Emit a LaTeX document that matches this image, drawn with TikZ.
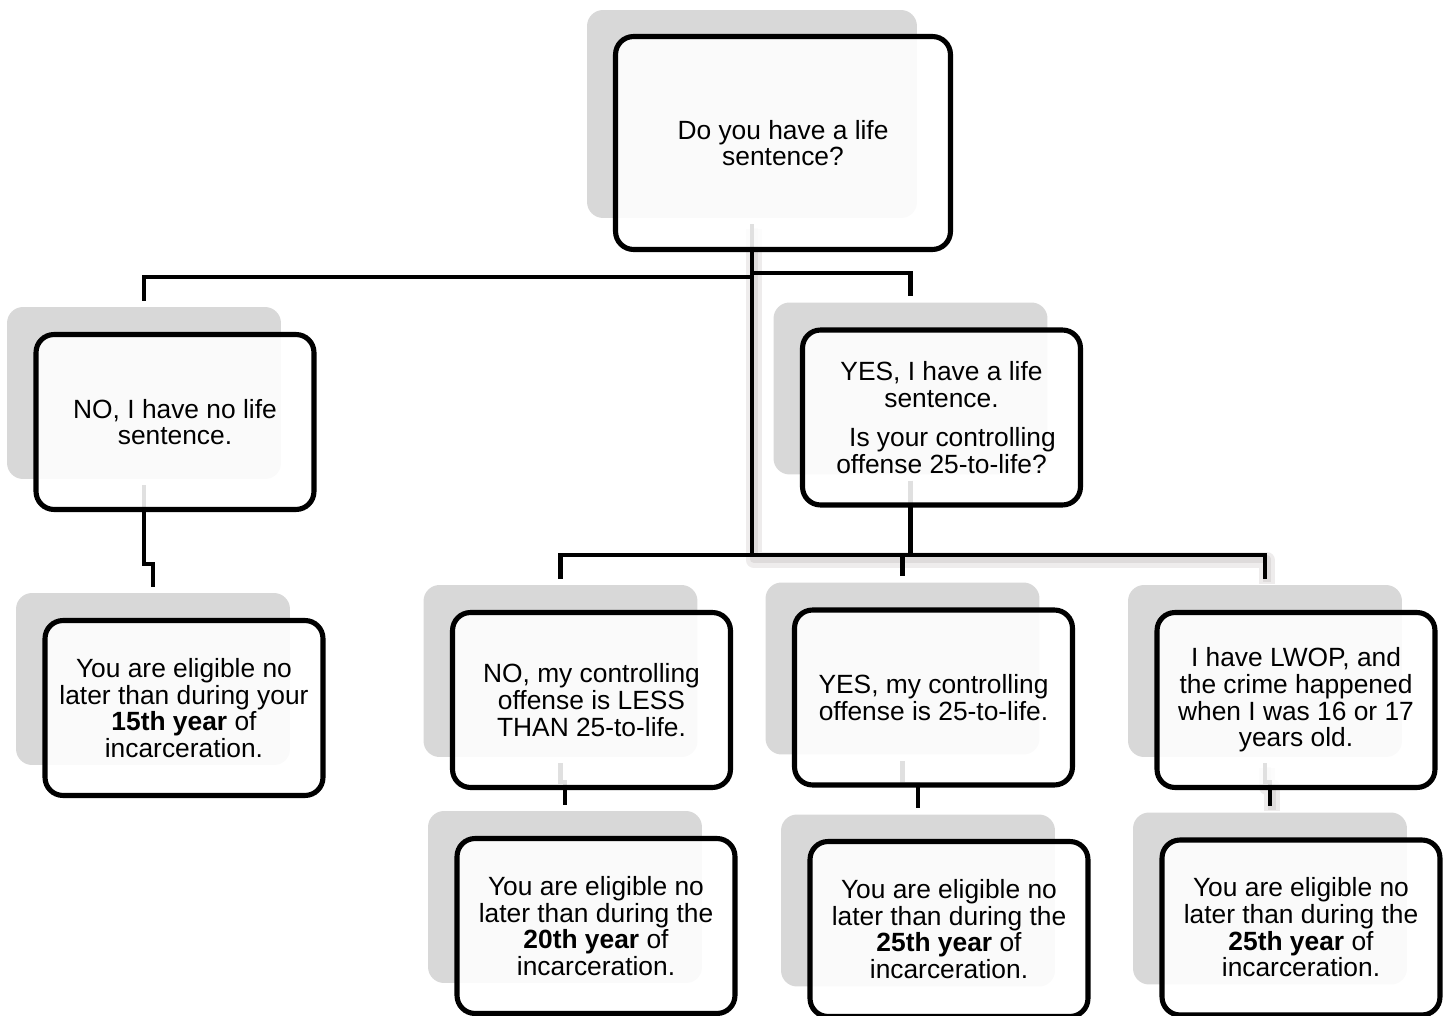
\documentclass[tikz,border=0pt]{standalone}
\usepackage{fontspec}
\setmainfont{Liberation Sans}
\definecolor{shadegray}{HTML}{D8D8D8}
\definecolor{lineshade}{HTML}{706060}
\tikzstyle{backcard}=[fill=shadegray, rounded corners=0.32cm, minimum width=5.48cm, minimum height=3.44cm, inner sep=0pt]
\tikzstyle{card}=[draw=black, line width=2.9pt, rounded corners=0.36cm, fill=white, fill opacity=0.88, text opacity=1, align=center, minimum width=5.56cm, minimum height=3.5cm, inner sep=2pt]
\tikzstyle{link}=[draw=black, line width=2.3pt, shorten <=0.12cm, shorten >=0.12cm]
\tikzstyle{linkshade}=[draw=lineshade, opacity=0.12, line width=0.32cm, line join=round, shorten <=0.12cm, shorten >=0.12cm]

\begin{document}
\begin{tikzpicture}[x=0.02cm, y=-0.02cm, font=\fontsize{15pt}{15.2pt}\selectfont]
            \useasboundingbox (0,0) rectangle (1445,1016);

            \begin{scope}[every node/.style={backcard}]
                \node[minimum width=6.6cm, minimum height=4.16cm] (top-s) at (752,114) {};
                \node (no-s) at (144,393) {};
                \node (yes-s) at (910.5,388.5) {};
                \node (fifteen-s) at (153,679) {};
                \node (less-s) at (560.5,671) {};
                \node (equal-s) at (902.5,668.5) {};
                \node (lwop-s) at (1265,671) {};
                \node (twenty-s) at (565,897) {};
                \node (equal25-s) at (918,900.5) {};
                \node (lwop25-s) at (1270,898.5) {};
            \end{scope}

            \begin{scope}[transform canvas={xshift=0.04cm, yshift=-0.1cm}, every path/.style={linkshade}]
                \path (top-s.south) -- ++(0,337) -| (lwop-s.north);
                \path (lwop-s.south) -- ++(0,25) -| (lwop25-s.north);
            \end{scope}
            \begin{scope}[transform canvas={xshift=0.03cm, yshift=-0.07cm}, every path/.style={linkshade, line width=0.16cm}]
                \path (top-s.south) -- ++(0,337) -| (lwop-s.north);
                \path (lwop-s.south) -- ++(0,25) -| (lwop25-s.north);
            \end{scope}

            \begin{scope}[every path/.style={link}]
                \path (top-s.south) -- ++(0,59) -| (no-s.north);
                \path (top-s.south) -- ++(0,55) -| (yes-s.north);
                \path (top-s.south) -- ++(0,337) -| (lwop-s.north);
                \path (no-s.south) -- ++(0,85) -| (fifteen-s.north);
                \path (yes-s.south) -- ++(0,80) -| (less-s.north);
                \path (yes-s.south) -- ++(0,80) -| (equal-s.north);
                \path (less-s.south) -- ++(0,25) -| (twenty-s.north);
                \path (equal-s.south) -- ++(0,29) -| (equal25-s.north);
                \path (lwop-s.south) -- ++(0,25) -| (lwop25-s.north);
            \end{scope}

            \begin{scope}[every node/.style={card}]
                \node[minimum width=6.7cm, minimum height=4.26cm] (top) at (783,143) {Do you have a life\\sentence?};
                \node (no) at (175,422) {NO, I have no life\\sentence.};
                \node (yes) at (941.5,417.5) {YES, I have a life\\sentence.\\[0.25cm]\hspace*{0.83em}Is your controlling\\offense 25-to-life?};
                \node (fifteen) at (184,708) {You are eligible no\\later than during your\\\textbf{15th year} of\\incarceration.};
                \node (less) at (591.5,700) {NO, my controlling\\offense is LESS\\THAN 25-to-life.};
                \node (equal) at (933.5,697.5) {YES, my controlling\\offense is 25-to-life.};
                \node (lwop) at (1296,700) {I have LWOP, and\\the crime happened\\when I was 16 or 17\\years old.};
                \node (twenty) at (596,926) {You are eligible no\\later than during the\\\textbf{20th year} of\\incarceration.};
                \node (equal25) at (949,929) {You are eligible no\\later than during the\\\textbf{25th year} of\\incarceration.};
                \node (lwop25) at (1301,927.5) {You are eligible no\\later than during the\\\textbf{25th year} of\\incarceration.};
            \end{scope}
        \end{tikzpicture}
\end{document}
